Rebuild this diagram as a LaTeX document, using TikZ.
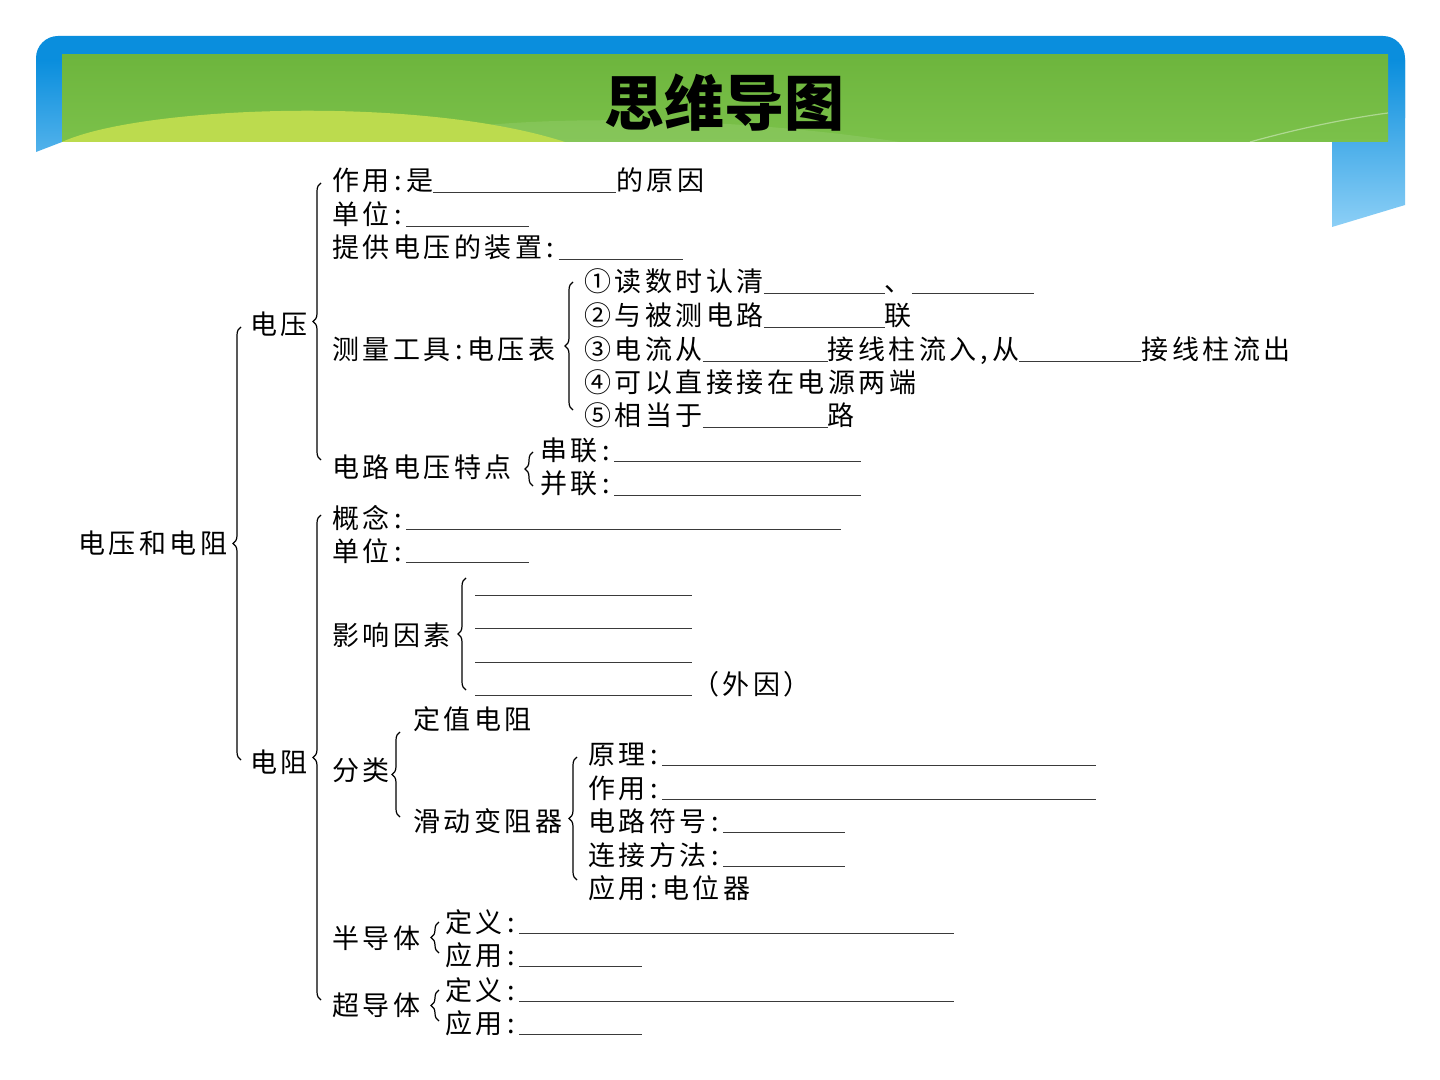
\documentclass[tikz,border=0pt]{standalone}
\usepackage{fontspec}
\setmainfont{Noto Sans CJK SC}
\newfontfamily\bodyfont[LetterSpace=13]{Noto Sans CJK SC}
\usepackage{tikz}
\usetikzlibrary{decorations.pathreplacing}
\definecolor{bannerTop}{HTML}{0A8EDD}
\definecolor{bannerBot}{HTML}{8CCFF6}
\definecolor{headGreen}{HTML}{7BC14A}
\definecolor{headGreenDk}{HTML}{6DB53D}
\definecolor{swooshCol}{HTML}{BCDB4E}
\definecolor{blankCol}{HTML}{3A3A3A}
\newcommand{\blank}[1]{\textcolor{blankCol}{\rule[-1.2pt]{#1pt}{0.7pt}}}
\newcommand{\cl}{\,:\,}
\tikzset{
  item/.style={anchor=west, inner sep=0pt, text height=12pt, text depth=2pt,
               font=\bodyfont\fontsize{13.5}{14}\selectfont},
  brc/.style={decorate, decoration={brace, amplitude=#1}, line width=0.6pt},
  brc/.default=4pt,
}

\begin{document}
\begin{tikzpicture}[x=0.5pt,y=-0.5pt]
  \useasboundingbox (0,0) rectangle (1440,1080);
  \fill[white] (0,0) rectangle (1440,1080);
  % header banner
  \fill[bannerTop, rounded corners=11pt] (36,36) rectangle (1405,140);
  \shade[top color=bannerTop, bottom color=bannerBot]
    (36,152) -- (36,60) -- (1405,60) -- (1405,205) -- (1332,227) -- (1332,142) -- (62,142) -- cycle;
  \shade[top color=headGreenDk, bottom color=headGreen] (62,55) rectangle (1388,142);
  \fill[headGreen!75!white, opacity=0.35] (380,142) .. controls (480,114) and (700,112) .. (900,142) -- cycle;
  \fill[swooshCol] (62,142) .. controls (140,106) and (420,95) .. (565,142) -- cycle;
  \draw[white, opacity=0.4, line width=0.6pt] (1250,142) .. controls (1300,128) and (1350,118) .. (1388,113);
  \node[font=\fontsize{30}{32}\selectfont\bfseries] (title) at (724,103) {思维导图};

  \def\xA{78}\def\xB{250}\def\xC{332}\def\xD{584}\def\xE{540}
  \def\xF{475}\def\xG{413}\def\xH{588}\def\xI{445}

  \node[item] (root) at (\xA,543) {电压和电阻};
  \node[item] (vol) at (\xB,325) {电压};
  \node[item] (res) at (\xB,762) {电阻};

  % voltage branch
  \node[item] (vUse) at (\xC,181) {作用\cl 是\blank{91.5}的原因};
  \node[item] (vUnit) at (\xC,215) {单位\cl\blank{61.5}};
  \node[item] (vSrc) at (\xC,248) {提供电压的装置\cl\blank{62}};
  \node[item] (vMeter) at (\xC,350) {测量工具\cl 电压表};
  \node[item] (m1) at (\xD,282) {①读数时认清\blank{60.5}、\blank{61}};
  \node[item] (m2) at (\xD,316) {②与被测电路\blank{60.5}联};
  \node[item] (m3) at (\xD,350) {③电流从\blank{62.5}接线柱流入,\,从\blank{61}接线柱流出};
  \node[item] (m4) at (\xD,383) {④可以直接接在电源两端};
  \node[item] (m5) at (\xD,416) {⑤相当于\blank{62.5}路};
  \node[item] (vRule) at (\xC,467) {电路电压特点};
  \node[item] (vSer) at (\xE,450) {串联\cl\blank{123.5}};
  \node[item] (vPar) at (\xE,484) {并联\cl\blank{123.5}};

  % resistance branch
  \node[item] (rDef) at (\xC,518) {概念\cl\blank{217.5}};
  \node[item] (rUnit) at (\xC,551) {单位\cl\blank{61.5}};
  \node[item] (rFac) at (\xC,635) {影响因素};
  \node[item] (f1) at (\xF,584) {\blank{108.5}};
  \node[item] (f2) at (\xF,617) {\blank{108.5}};
  \node[item] (f3) at (\xF,651) {\blank{108.5}};
  \node[item] (f4) at (\xF,684) {\blank{108.5}（外因）};
  \node[item] (rCls) at (\xC,770) {分类};
  \node[item] (cFix) at (\xG,719) {定值电阻};
  \node[item] (cSlide) at (\xG,821) {滑动变阻器};
  \node[item] (s1) at (\xH,754) {原理\cl\blank{217}};
  \node[item] (s2) at (\xH,788) {作用\cl\blank{217}};
  \node[item] (s3) at (\xH,821) {电路符号\cl\blank{61}};
  \node[item] (s4) at (\xH,855) {连接方法\cl\blank{61}};
  \node[item] (s5) at (\xH,888) {应用\cl 电位器};
  \node[item] (rSemi) at (\xC,938) {半导体};
  \node[item] (sm1) at (\xI,922) {定义\cl\blank{217.5}};
  \node[item] (sm2) at (\xI,955) {应用\cl\blank{61.5}};
  \node[item] (rSup) at (\xC,1005) {超导体};
  \node[item] (sp1) at (\xI,990) {定义\cl\blank{217.5}};
  \node[item] (sp2) at (\xI,1023) {应用\cl\blank{61.5}};

  % braces
  \draw[brc] ([xshift=-4.5pt,yshift=1pt]res.west) -- ([xshift=-4.5pt,yshift=-1pt]vol.west);
  \draw[brc] ([xshift=-5.5pt,yshift=3.5pt]vRule.west) -- ([xshift=-5.5pt,yshift=-1pt]vUse.west);
  \draw[brc] ([xshift=-5.5pt,yshift=3pt]m5.west) -- ([xshift=-5.5pt]m1.west);
  \draw[brc] ([xshift=-3.5pt,yshift=-1pt]vPar.west) -- ([xshift=-3.5pt,yshift=-1pt]vSer.west);
  \draw[brc] ([xshift=-5.5pt,yshift=2.5pt]rSup.west) -- ([xshift=-5.5pt,yshift=1.5pt]rDef.west);
  \draw[brc] ([xshift=-4.5pt,yshift=-3pt]f4.west) -- ([xshift=-4.5pt,yshift=3pt]f1.west);
  \draw[brc] ([xshift=-6.5pt,yshift=2pt]cSlide.west) -- ([xshift=-6.5pt,yshift=-6.5pt]cFix.west);
  \draw[brc] ([xshift=-5.5pt,yshift=4pt]s5.west) -- ([xshift=-5.5pt,yshift=-1.5pt]s1.west);
  \draw[brc] ([xshift=-3pt,yshift=1pt]sm2.west) -- ([xshift=-3pt]sm1.west);
  \draw[brc] ([xshift=-3pt,yshift=1pt]sp2.west) -- ([xshift=-3pt]sp1.west);
\end{tikzpicture}
\end{document}
